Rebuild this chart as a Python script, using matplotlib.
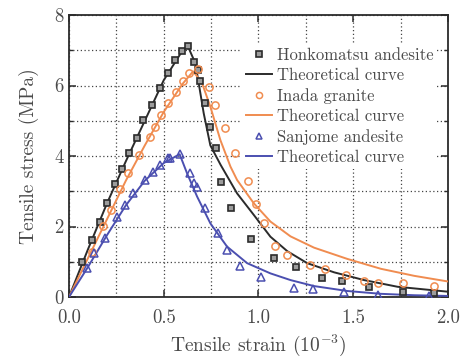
import matplotlib
matplotlib.use("Agg")
import matplotlib.pyplot as plt
from matplotlib.ticker import MultipleLocator

plt.rcParams['font.family'] = ['cmr10', 'DejaVu Serif']
plt.rcParams['mathtext.fontset'] = 'cm'
plt.rcParams['axes.unicode_minus'] = False
plt.rcParams['axes.formatter.use_mathtext'] = True

# measured points (strain in 1e-3, stress in MPa)
honko_x = [0.069, 0.122, 0.166, 0.201, 0.245, 0.279, 0.319, 0.358, 0.393, 0.437,
           0.481, 0.52, 0.557, 0.596, 0.626, 0.658, 0.679, 0.69, 0.72, 0.742,
           0.774, 0.804, 0.855, 0.963, 1.081, 1.196, 1.333, 1.443, 1.584, 1.76, 1.924]
honko_y = [1.0, 1.62, 2.12, 2.66, 3.2, 3.62, 4.08, 4.5, 5.02, 5.45,
           5.92, 6.36, 6.72, 6.99, 7.13, 6.68, 6.44, 6.13, 5.51, 4.83,
           4.22, 3.27, 2.52, 1.64, 1.1, 0.84, 0.53, 0.44, 0.28, 0.15, 0.1]

inada_x = [0.12, 0.182, 0.222, 0.27, 0.314, 0.367, 0.425, 0.455, 0.485, 0.525,
           0.566, 0.601, 0.635, 0.679, 0.737, 0.772, 0.825, 0.878, 0.945, 0.989,
           1.028, 1.086, 1.148, 1.271, 1.349, 1.464, 1.557, 1.628, 1.76, 1.928]
inada_y = [1.29, 2.01, 2.47, 3.06, 3.51, 4.02, 4.53, 4.83, 5.16, 5.51,
           5.82, 6.14, 6.35, 6.46, 5.97, 5.45, 4.8, 4.08, 3.29, 2.63,
           2.09, 1.45, 1.2, 0.91, 0.79, 0.62, 0.46, 0.39, 0.39, 0.31]

sanjome_x = [0.094, 0.134, 0.19, 0.252, 0.296, 0.337, 0.402, 0.443, 0.481, 0.522,
             0.534, 0.584, 0.637, 0.658, 0.676, 0.72, 0.787, 0.834, 0.905, 1.014,
             1.187, 1.287, 1.451, 1.631, 1.898]
sanjome_y = [0.81, 1.24, 1.66, 2.28, 2.61, 2.94, 3.32, 3.55, 3.74, 3.93,
             3.95, 4.05, 3.51, 3.23, 3.13, 2.52, 1.81, 1.33, 0.88, 0.58,
             0.25, 0.22, 0.15, 0.06, 0.03]

# theoretical curves
honko_cx = [0.0, 0.1, 0.2, 0.3, 0.4, 0.5, 0.6, 0.626, 0.667, 0.711, 0.746, 0.8,
            0.887, 0.975, 1.063, 1.152, 1.257, 1.399, 1.557, 1.734, 2.0]
honko_cy = [0.0, 1.35, 2.65, 3.85, 5.0, 6.15, 7.0, 7.13, 6.63, 5.21, 4.3, 3.75,
            2.94, 2.33, 1.71, 1.3, 0.96, 0.7, 0.48, 0.29, 0.15]

inada_cx = [0.0, 0.1, 0.2, 0.3, 0.4, 0.5, 0.6, 0.655, 0.7, 0.746, 0.799, 0.852,
            0.887, 0.975, 1.063, 1.169, 1.293, 1.469, 1.646, 1.822, 2.0]
inada_cy = [0.0, 1.1, 2.2, 3.3, 4.3, 5.25, 6.05, 6.4, 6.1, 5.4, 4.45, 3.7,
            3.32, 2.66, 2.14, 1.72, 1.4, 1.08, 0.8, 0.6, 0.44]

sanjome_cx = [0.0, 0.1, 0.2, 0.3, 0.4, 0.5, 0.584, 0.623, 0.676, 0.746, 0.834,
              0.94, 1.063, 1.169, 1.293, 1.469, 1.646, 1.822, 2.0]
sanjome_cy = [0.0, 0.85, 1.75, 2.6, 3.3, 3.8, 4.05, 3.51, 2.85, 2.09, 1.43,
              0.96, 0.67, 0.48, 0.31, 0.17, 0.09, 0.05, 0.03]

c_black = '#2b2b2b'
c_orange = '#f08c50'
c_blue = '#4b4fb0'
c_text = '#4a4a4a'

fig = plt.figure(figsize=(4.63, 3.59), dpi=100)
ax = fig.add_axes([0.149, 0.1727, 0.8186, 0.7855])

ax.plot(honko_x, honko_y, 's', ms=4.8, mfc='#9c9c9c', mec=c_black, mew=1.2,
        label='Honkomatsu andesite', zorder=4)
ax.plot(honko_cx, honko_cy, '-', color=c_black, lw=1.4, label='Theoretical curve', zorder=3)
ax.plot(inada_x, inada_y, 'o', ms=5.2, mfc='none', mec=c_orange, mew=1.1,
        label='Inada granite', zorder=4)
ax.plot(inada_cx, inada_cy, '-', color=c_orange, lw=1.4, label='Theoretical curve', zorder=3)
ax.plot(sanjome_x, sanjome_y, '^', ms=5.2, mfc='none', mec=c_blue, mew=1.1,
        label='Sanjome andesite', zorder=4)
ax.plot(sanjome_cx, sanjome_cy, '-', color=c_blue, lw=1.4, label='Theoretical curve', zorder=3)

ax.set_xlim(0, 2.0)
ax.set_ylim(0, 8)
ax.xaxis.set_major_locator(MultipleLocator(0.5))
ax.xaxis.set_minor_locator(MultipleLocator(0.25))
ax.yaxis.set_major_locator(MultipleLocator(2))
ax.yaxis.set_minor_locator(MultipleLocator(1))
ax.xaxis.set_major_formatter(plt.FuncFormatter(lambda v, p: '%.1f' % v))
ax.yaxis.set_major_formatter(plt.FuncFormatter(lambda v, p: '%d' % v))
ax.tick_params(which='both', direction='in', top=True, right=True, colors=c_black,
               labelcolor=c_text, labelsize=13.5)
ax.tick_params(which='major', length=5, width=1.1)
ax.tick_params(which='minor', length=3, width=1.0)
ax.tick_params(axis='x', which='minor', length=0)
ax.tick_params(axis='x', which='major', pad=8.5)
ax.tick_params(axis='y', which='major', pad=4)
ax.grid(True, which='both', linestyle=(0, (1, 2)), color='#444444', lw=0.9)
for s in ax.spines.values():
    s.set_color(c_black)
    s.set_linewidth(1.3)

ax.set_xlabel(r'Tensile strain ($10^{-3}$)', fontsize=14, color=c_text, labelpad=4)
ax.set_ylabel('Tensile stress (MPa)', fontsize=14, color=c_text, labelpad=11)

leg = ax.legend(loc='upper right', bbox_to_anchor=(0.985, 0.915), frameon=True,
                fontsize=12, handlelength=1.6, handletextpad=0.3,
                labelspacing=0.3, borderpad=0.2, borderaxespad=0.3,
                markerscale=0.85)
leg.get_frame().set_edgecolor('none')
leg.get_frame().set_facecolor('white')
leg.get_frame().set_alpha(1.0)
for t in leg.get_texts():
    t.set_color(c_text)

fig.savefig('out.png', dpi=100)
